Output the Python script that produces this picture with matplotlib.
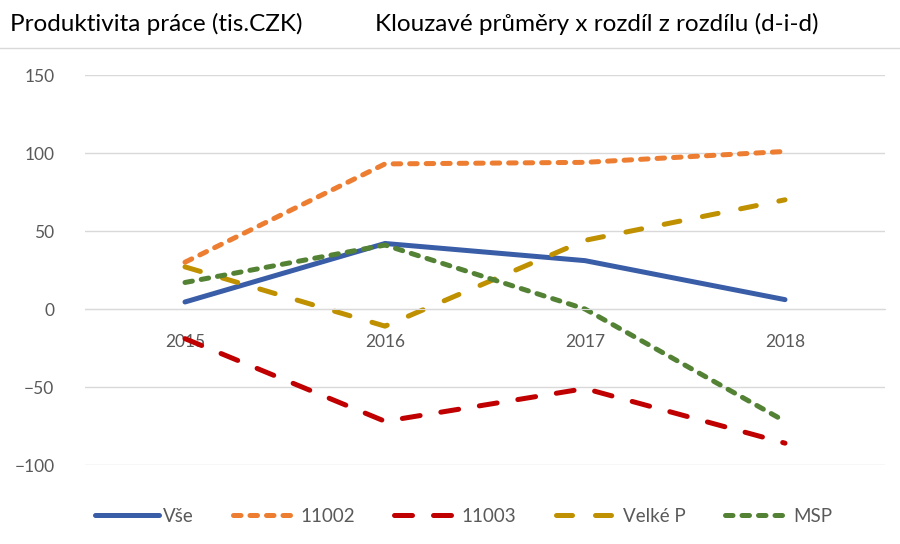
import numpy as np
import matplotlib.pyplot as plt

years = ["2015", "2016", "2017", "2018"]
vse = [4.5, 42, 31, 6]
s11002 = [30, 93, 94, 101]
s11003 = [-19, -72, -51, -86]
velke_p = [27, -11, 44, 70]
msp = [17, 41, 0, -72]

plt.rcParams["font.family"] = ["Lato", "DejaVu Sans"]
fontsize = 12.5

fig = plt.figure(figsize=(9, 5.44), dpi=100)
ax = fig.add_axes([85/900, 1 - 465/544, 800/900, 390/544])

x = np.arange(len(years))
lw = 3.6
ax.plot(x, vse, color="#3A5DA8", lw=lw, solid_capstyle="round", label="Vše")
ax.plot(x, s11002, color="#ED7D31", lw=lw, dash_capstyle="round", dashes=(1.5, 1.8), label="11002")
ax.plot(x, s11003, color="#C00000", lw=lw, dash_capstyle="round", dashes=(3.6, 4.2), label="11003")
ax.plot(x, velke_p, color="#BF9000", lw=lw, dash_capstyle="round", dashes=(3.2, 4.6), label="Velké P")
ax.plot(x, msp, color="#548235", lw=lw, dash_capstyle="round", dashes=(1.5, 1.8), label="MSP")

ax.set_xlim(-0.5, 3.5)
ax.set_ylim(-100, 150)
ax.set_yticks([-100, -50, 0, 50, 100, 150])
ax.grid(axis="y", color="#D9D9D9", lw=1)
ax.set_axisbelow(True)

for s in ["top", "right", "left"]:
    ax.spines[s].set_visible(False)
ax.spines["bottom"].set_position(("data", 0))
ax.spines["bottom"].set_color("#D9D9D9")

ax.set_xticks(x)
ax.set_xticklabels(years)
ax.tick_params(axis="x", length=0, pad=18, labelsize=fontsize, labelcolor="#595959")
ax.tick_params(axis="y", length=0, pad=22, labelsize=fontsize, labelcolor="#595959")

fig.text(10/900, 1 - 24/544, "Produktivita práce (tis.CZK)", fontsize=17.5, va="center", ha="left")
fig.text(375/900, 1 - 24/544, "Klouzavé průměry x rozdíl z rozdílu (d-i-d)", fontsize=17.5, va="center", ha="left")
fig.add_artist(plt.Line2D([0, 1], [1 - 48/544, 1 - 48/544], color="#D9D9D9", lw=1))

fig.legend(loc="center", bbox_to_anchor=(0.515, 1 - 516/544), ncol=5, frameon=False,
           fontsize=13.5, handlelength=3.4, handletextpad=0.2, columnspacing=2.1,
           labelcolor="#595959")

plt.savefig("out.png", dpi=100)
